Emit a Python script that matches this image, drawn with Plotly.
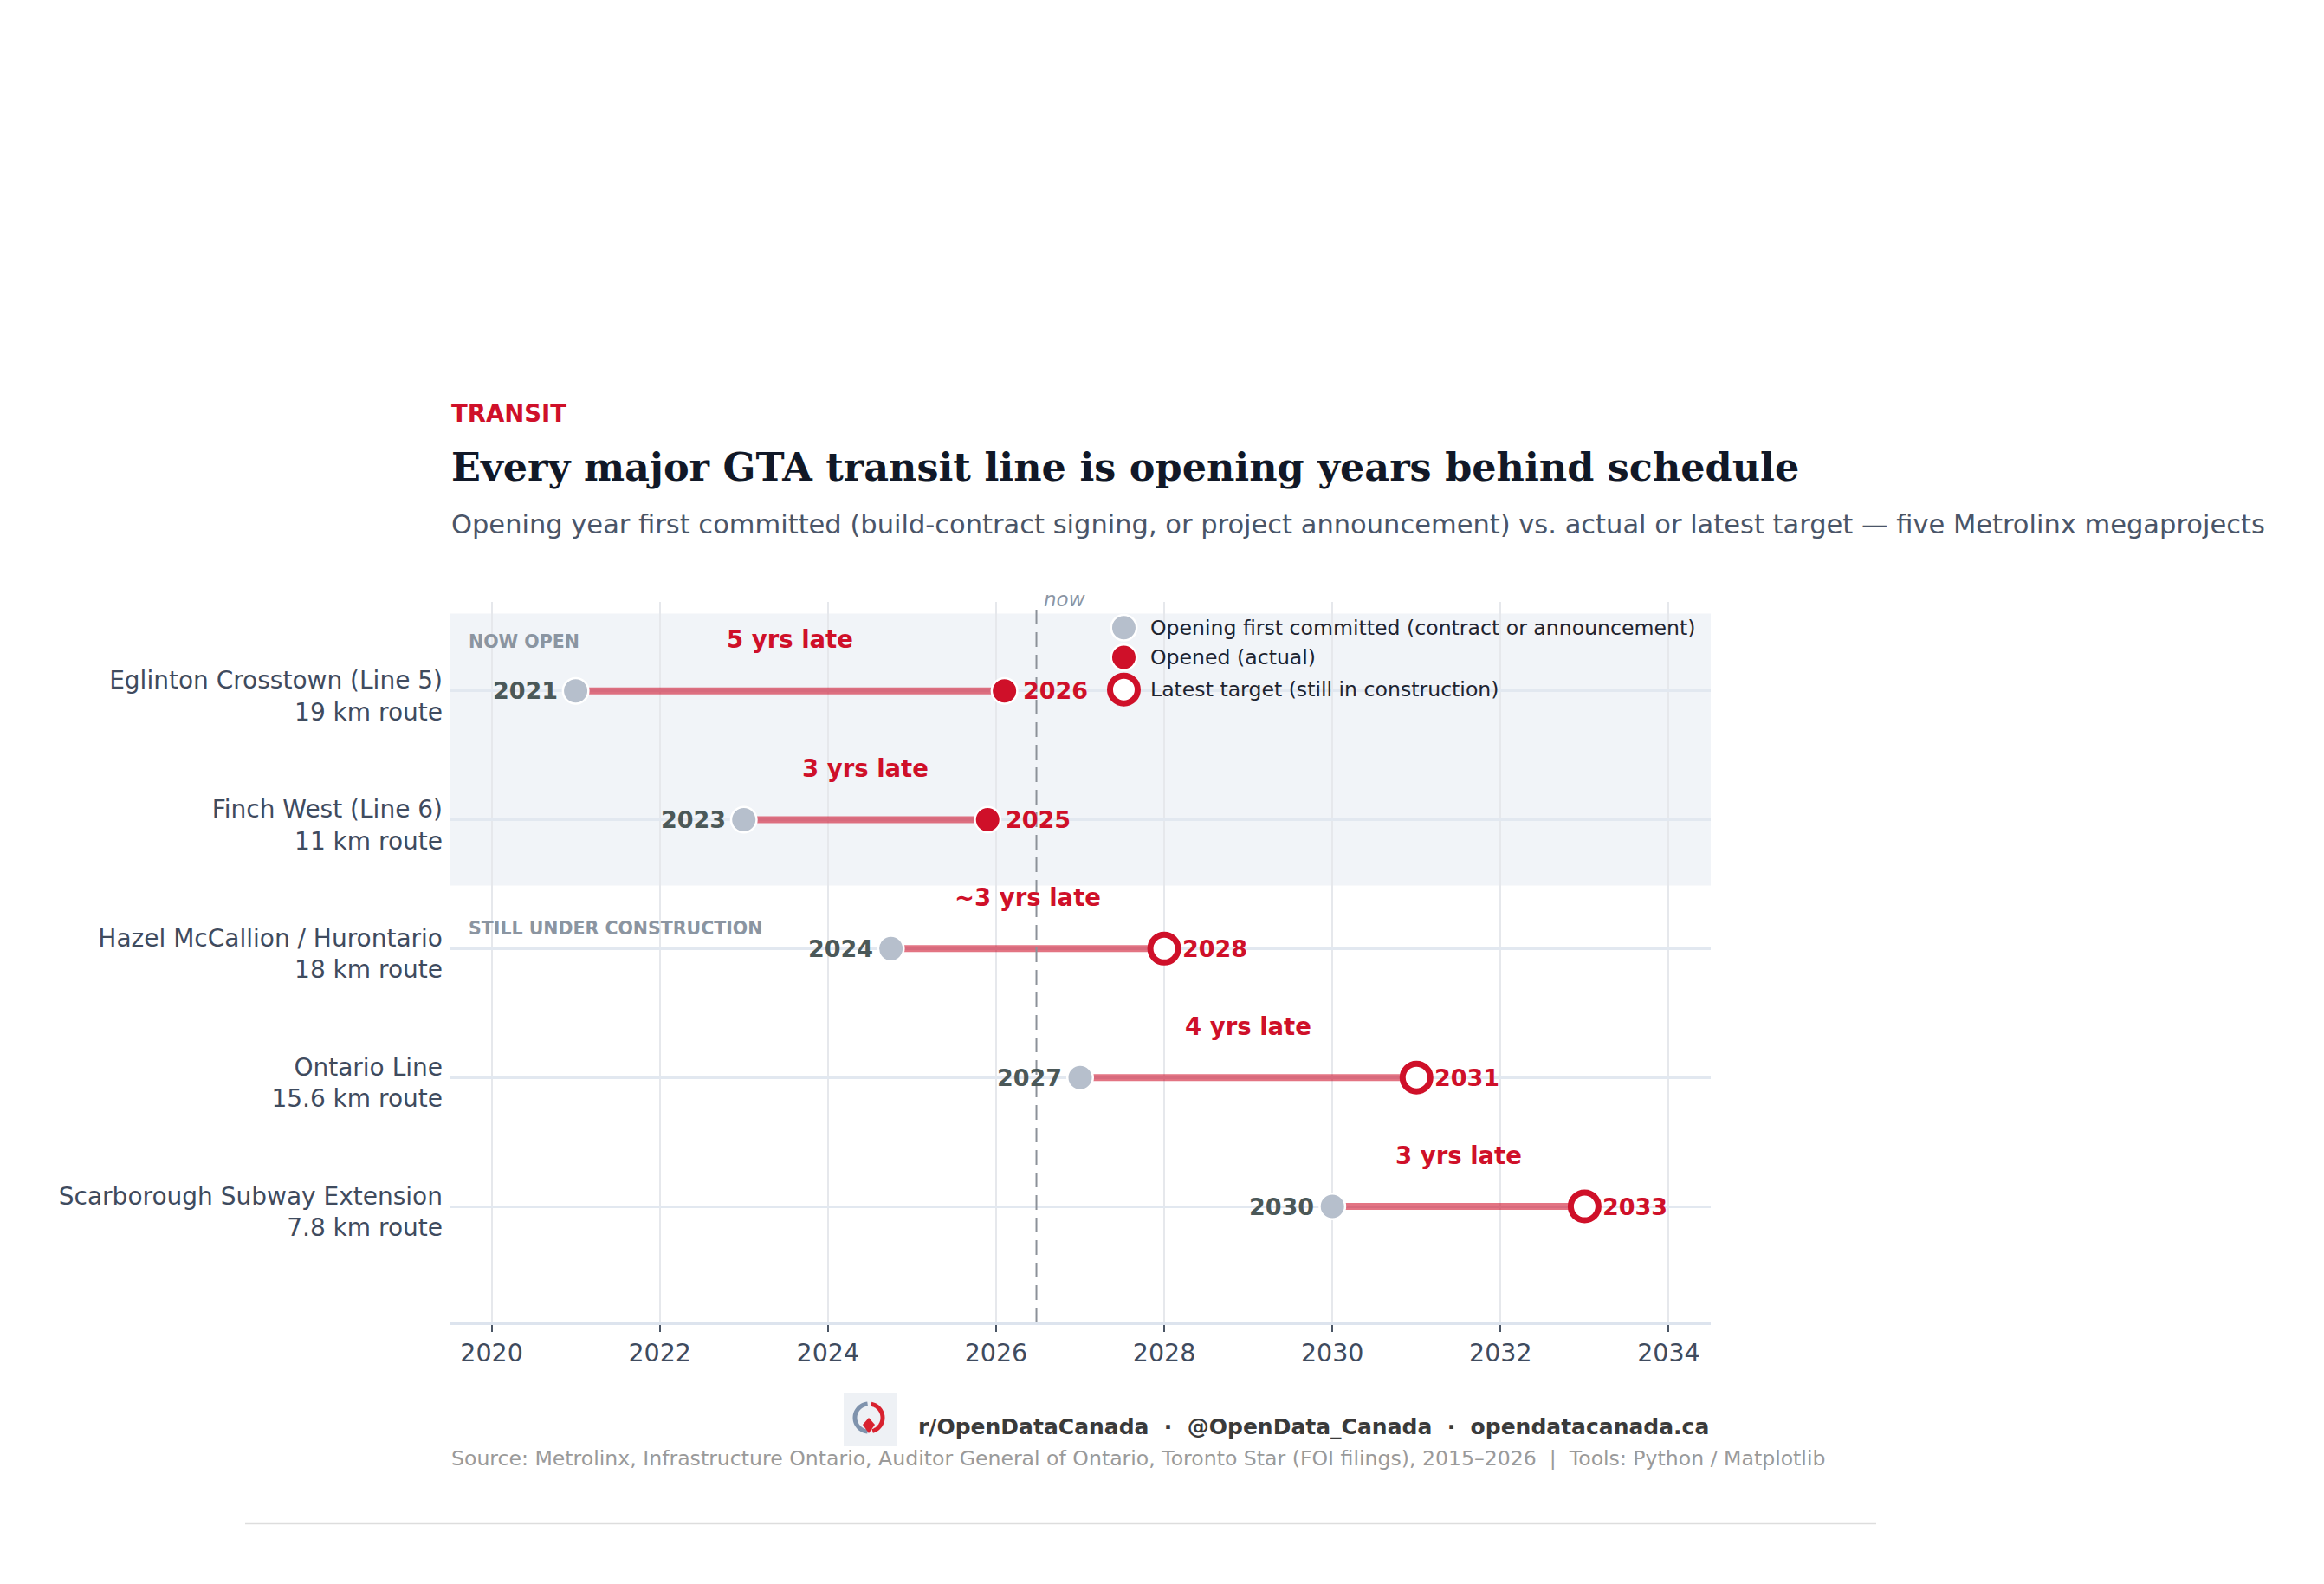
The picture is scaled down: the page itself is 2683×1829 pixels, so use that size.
import math
import plotly.graph_objects as go

# ---------------- data ----------------
projects = ["Eglinton Crosstown (Line 5)", "Finch West (Line 6)",
            "Hazel McCallion / Hurontario", "Ontario Line",
            "Scarborough Subway Extension"]
route_km = ["19", "11", "18", "15.6", "7.8"]
committed_year = [2021.0, 2023.0, 2024.75, 2027.0, 2030.0]
committed_label = ["2021", "2023", "2024", "2027", "2030"]
latest_year = [2026.1, 2025.9, 2028.0, 2031.0, 2033.0]
latest_label = ["2026", "2025", "2028", "2031", "2033"]
status = ["open", "open", "construction", "construction", "construction"]
delay_label = ["5 yrs late", "3 yrs late", "~3 yrs late", "4 yrs late", "3 yrs late"]
now_year = 2026.48
x_ticks = [2020, 2022, 2024, 2026, 2028, 2030, 2032, 2034]
legend_labels = ["Opening first committed (contract or announcement)",
                 "Opened (actual)", "Latest target (still in construction)"]
section_labels = ["NOW OPEN", "STILL UNDER CONSTRUCTION"]

# ---------------- style ----------------
W, H = 2683, 1829
PL, PR, PT, PB = 519, 1975, 695, 1527
RED = "#cf1029"
GRAY_MK = "#b6bfcc"
DARK_LBL = "#4b5858"
TICK_CLR = "#3f4b5e"
FONT = "DejaVu Sans"


def pxx(x):
    return (x - PL) / (PR - PL)


def pxy(y):
    return (PB - y) / (PB - PT)


rows = list(range(len(projects)))
ticktext = [f"{p}<br>{k} km route" for p, k in zip(projects, route_km)]

fig = go.Figure()

# connectors
cx, cy = [], []
for i in rows:
    cx += [committed_year[i], latest_year[i], None]
    cy += [i, i, None]
fig.add_trace(go.Scatter(x=cx, y=cy, mode="lines", hoverinfo="skip",
                         line=dict(color="rgba(207,16,41,0.58)", width=8),
                         showlegend=False))

# committed markers
fig.add_trace(go.Scatter(x=committed_year, y=rows, mode="markers",
                         marker=dict(size=29.5, color=GRAY_MK,
                                     line=dict(color="white", width=2.5)),
                         showlegend=False, name=legend_labels[0]))

open_idx = [i for i in rows if status[i] == "open"]
cons_idx = [i for i in rows if status[i] != "open"]
fig.add_trace(go.Scatter(x=[latest_year[i] for i in open_idx], y=open_idx,
                         mode="markers",
                         marker=dict(size=29.5, color=RED,
                                     line=dict(color="white", width=2.5)),
                         showlegend=False, name=legend_labels[1]))
fig.add_trace(go.Scatter(x=[latest_year[i] for i in cons_idx], y=cons_idx,
                         mode="markers",
                         marker=dict(size=32, color="white",
                                     line=dict(color=RED, width=7)),
                         showlegend=False, name=legend_labels[2]))

# manual legend
leg_x = 2027.52
leg_y = [-0.49, -0.26, -0.01]
leg_styles = [dict(size=29.5, color=GRAY_MK, line=dict(color="white", width=2.5)),
              dict(size=29.5, color=RED, line=dict(color="white", width=2.5)),
              dict(size=32, color="white", line=dict(color=RED, width=7))]
for lbl, ly, st in zip(legend_labels, leg_y, leg_styles):
    fig.add_trace(go.Scatter(x=[leg_x], y=[ly], mode="markers", marker=st,
                             showlegend=False, hoverinfo="skip"))

annotations = []
for lbl, ly in zip(legend_labels, leg_y):
    annotations.append(dict(x=leg_x, y=ly, xref="x", yref="y", text=lbl,
                            showarrow=False, xanchor="left", yanchor="middle",
                            xshift=29, font=dict(family=FONT, size=23.6, color="#1f2430")))

for i in rows:
    annotations.append(dict(x=committed_year[i], y=i, text=f"<b>{committed_label[i]}</b>",
                            showarrow=False, xanchor="right", yanchor="middle", xshift=-19,
                            font=dict(family=FONT, size=27, color=DARK_LBL)))
    annotations.append(dict(x=latest_year[i], y=i, text=f"<b>{latest_label[i]}</b>",
                            showarrow=False, xanchor="left", yanchor="middle", xshift=19,
                            font=dict(family=FONT, size=27, color=RED)))
    annotations.append(dict(x=(committed_year[i] + latest_year[i]) / 2, y=i - 0.40,
                            text=f"<b>{delay_label[i]}</b>", showarrow=False,
                            xanchor="center", yanchor="middle",
                            font=dict(family=FONT, size=27.5, color=RED)))

annotations.append(dict(x=2019.71, y=-0.38, text=f"<b>{section_labels[0]}</b>",
                        showarrow=False, xanchor="left", yanchor="middle",
                        font=dict(family=FONT, size=20.5, color="#8b95a1")))
annotations.append(dict(x=2019.71, y=1.84, text=f"<b>{section_labels[1]}</b>",
                        showarrow=False, xanchor="left", yanchor="middle",
                        font=dict(family=FONT, size=20.5, color="#8b95a1")))

annotations.append(dict(x=now_year, y=pxy(692), xref="x", yref="paper", text="<i>now</i>",
                        showarrow=False, xanchor="left", yanchor="middle", xshift=6,
                        font=dict(family=FONT, size=23, color="#8c95a3")))

# header
annotations.append(dict(x=0, y=pxy(477), xref="paper", yref="paper", text="<b>TRANSIT</b>",
                        showarrow=False, xanchor="left", yanchor="middle",
                        font=dict(family=FONT, size=27.5, color=RED)))
annotations.append(dict(x=0, y=pxy(539), xref="paper", yref="paper",
                        text="<b>Every major GTA transit line is opening years behind schedule</b>",
                        showarrow=False, xanchor="left", yanchor="middle",
                        font=dict(family="DejaVu Serif", size=44.5, color="#111827")))
annotations.append(dict(x=0, y=pxy(605), xref="paper", yref="paper",
                        text="Opening year first committed (build-contract signing, or project announcement) "
                             "vs. actual or latest target \u2014 five Metrolinx megaprojects",
                        showarrow=False, xanchor="left", yanchor="middle",
                        font=dict(family=FONT, size=30.5, color="#4a5568")))

# footer
annotations.append(dict(x=1, y=pxy(1647), xref="paper", yref="paper",
                        text="<b>r/OpenDataCanada  \u00b7  @OpenData_Canada  \u00b7  opendatacanada.ca</b>",
                        showarrow=False, xanchor="right", yanchor="middle",
                        font=dict(family=FONT, size=25, color="#3a3a3a")))
annotations.append(dict(x=0, y=pxy(1684), xref="paper", yref="paper",
                        text="Source: Metrolinx, Infrastructure Ontario, Auditor General of Ontario, "
                             "Toronto Star (FOI filings), 2015\u20132026  |  Tools: Python / Matplotlib",
                        showarrow=False, xanchor="left", yanchor="middle",
                        font=dict(family=FONT, size=23.6, color="#9a9a9a")))

shapes = []
# band for opened lines
shapes.append(dict(type="rect", xref="paper", yref="y", x0=0, x1=1, y0=-0.6, y1=1.51,
                   fillcolor="#f1f4f8", line=dict(width=0), layer="below"))
# now line
shapes.append(dict(type="line", xref="x", yref="paper", x0=now_year, x1=now_year,
                   y0=0, y1=pxy(702), line=dict(color="#8c9199", width=2, dash="17px,9px"),
                   layer="above"))
# bottom rule
shapes.append(dict(type="line", xref="paper", yref="paper", x0=pxx(283), x1=pxx(2166),
                   y0=pxy(1759), y1=pxy(1759), line=dict(color="#dddddd", width=2.5)))
# logo
shapes.append(dict(type="rect", xref="paper", yref="paper", x0=pxx(974), x1=pxx(1035),
                   y0=pxy(1670), y1=pxy(1608), fillcolor="#eef1f5", line=dict(width=0)))


def arc_path(cxp, cyp, r, a0, a1, n=30):
    pts = []
    for k in range(n + 1):
        a = math.radians(a0 + (a1 - a0) * k / n)
        pts.append((pxx(cxp + r * math.cos(a)), pxy(cyp - r * math.sin(a))))
    return "M " + " L ".join(f"{x:.5f},{y:.5f}" for x, y in pts)


shapes.append(dict(type="path", xref="paper", yref="paper",
                   path=arc_path(1003, 1637, 16, 95, 265), line=dict(color="#7f93ad", width=5)))
shapes.append(dict(type="path", xref="paper", yref="paper",
                   path=arc_path(1003, 1637, 16, -75, 80), line=dict(color="#d8222f", width=5)))
shapes.append(dict(type="path", xref="paper", yref="paper",
                   path=(f"M {pxx(1003):.5f},{pxy(1637):.5f} L {pxx(1010):.5f},{pxy(1645):.5f} "
                         f"L {pxx(1003):.5f},{pxy(1655):.5f} L {pxx(996):.5f},{pxy(1645):.5f} Z"),
                   fillcolor="#d8222f", line=dict(width=0)))

fig.update_layout(
    width=W, height=H, autosize=False,
    margin=dict(l=PL, r=W - PR, t=PT, b=H - PB, pad=0),
    paper_bgcolor="white", plot_bgcolor="white",
    font=dict(family=FONT),
    showlegend=False,
    annotations=annotations, shapes=shapes,
    xaxis=dict(range=[2019.5, 2034.5], tickvals=x_ticks, ticktext=[str(t) for t in x_ticks],
               showgrid=True, gridcolor="#e6e8ec", gridwidth=2, zeroline=False,
               showline=True, linecolor="#dde4ee", linewidth=2.5,
               ticks="outside", ticklen=8, tickwidth=2, tickcolor="#4a5565",
               tickfont=dict(family=FONT, size=28.5, color=TICK_CLR), automargin=False),
    yaxis=dict(range=[4.9, -0.69], tickvals=rows, ticktext=ticktext,
               showgrid=True, gridcolor="#e2e8f0", gridwidth=2.5, zeroline=False,
               showline=False, ticks="", automargin=False,
               ticklabelstandoff=7, ticklabelshift=-6,
               tickfont=dict(family=FONT, size=28, color=TICK_CLR)),
)

fig.write_html("out.html")
